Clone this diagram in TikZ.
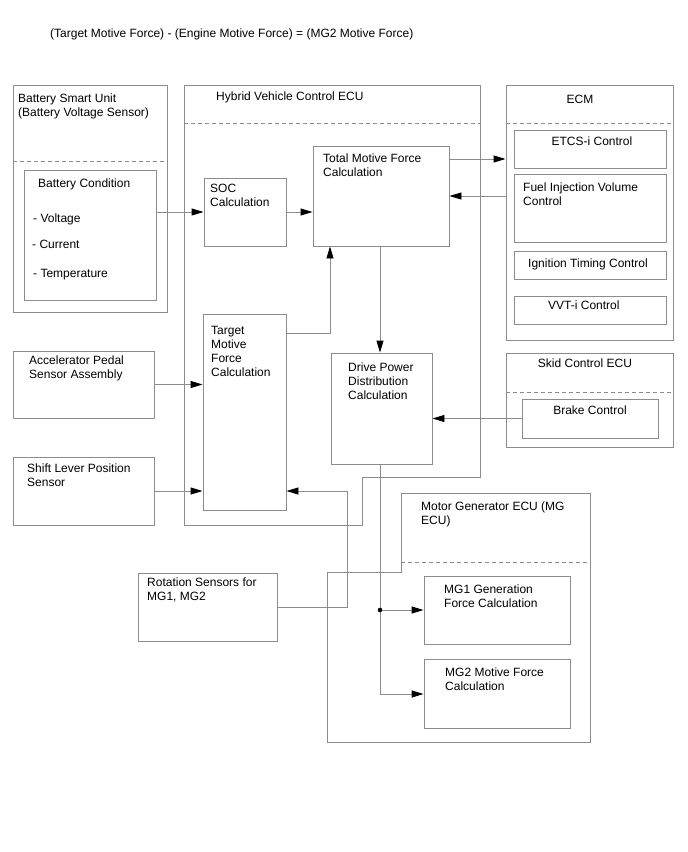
\documentclass[tikz,border=0pt]{standalone}
\usepackage{fontspec}
\setmainfont{Liberation Sans}
\usetikzlibrary{arrows.meta,fit}
\definecolor{ln}{RGB}{140,140,140}
\begin{document}
\begin{tikzpicture}[x=1pt,y=-1pt,
  box/.style={draw=ln, line width=0.9pt, inner sep=0pt},
  lbl/.style={anchor=base west, inner sep=0pt, align=left, font=\fontsize{12}{14}\selectfont},
  clbl/.style={anchor=base, inner sep=0pt, font=\fontsize{12}{14}\selectfont},
  arr/.style={draw=ln, line width=0.9pt, -{Triangle[length=12pt,width=7pt,color=black]}},
  con/.style={draw=ln, line width=0.9pt},
  sepline/.style={draw=ln, line width=0.9pt, dash pattern=on 4pt off 3pt}]
\useasboundingbox[fill=white] (0,0) rectangle (688,852);

% title (multi-line labels are placed by the baseline of their last line)
\node[lbl] (title) at (50,37) {(Target Motive Force) - (Engine Motive Force) = (MG2 Motive Force)};

% Battery Smart Unit
\node[box, fit={(13,85)(167,312)}] (bsu) {};
\draw[sepline] (bsu.west |- 0,161) -- (bsu.east |- 0,161);
\node[lbl] (bsut) at (18,116) {Battery Smart Unit\\(Battery Voltage Sensor)};
\node[box, fit={(24,170)(156,300)}] (batcond) {};
\node[lbl] (bct) at (38,187) {Battery Condition};
\node[lbl] (bv) at (33,222) {- Voltage};
\node[lbl] (bc) at (32,248) {- Current};
\node[lbl] (btp) at (33,277) {- Temperature};

% Hybrid Vehicle Control ECU
\draw[con] (184,85) -- (480,85) -- (480,477) -- (362,477) -- (362,525) -- (184,525) -- cycle;
\coordinate (hv) at (184,85);
\draw[sepline] (184,123) -- (480,123);
\node[lbl] (hvt) at (216,100) {Hybrid Vehicle Control ECU};
\node[box, fit={(204,178)(286,246)}] (soc) {};
\node[lbl] (soct) at (210,206) {SOC\\Calculation};
\node[box, fit={(313,146)(449,246)}] (total) {};
\node[lbl] (totalt) at (323,176) {Total Motive Force\\Calculation};
\node[box, fit={(203,314)(286,510)}] (target) {};
\node[lbl] (targett) at (211,376) {Target\\Motive\\Force\\Calculation};
\node[box, fit={(331,353)(432,464)}] (drive) {};
\node[lbl] (drivet) at (348,399) {Drive Power\\Distribution\\Calculation};

% ECM
\node[box, fit={(506,85)(673,340)}] (ecm) {};
\draw[sepline] (ecm.west |- 0,123) -- (ecm.east |- 0,123);
\node[clbl] (ecmt) at (580,103) {ECM};
\node[box, fit={(514,130)(666,168)}] (etcs) {};
\node[clbl] (etcst) at (592,145) {ETCS-i Control};
\node[box, fit={(514,174)(666,242)}] (fuel) {};
\node[lbl] (fuelt) at (523,205) {Fuel Injection Volume\\Control};
\node[box, fit={(514,251)(666,279)}] (ign) {};
\node[lbl] (ignt) at (528,267) {Ignition Timing Control};
\node[box, fit={(514,296)(666,324)}] (vvt) {};
\node[lbl] (vvtt) at (548,309) {VVT-i Control};

% Skid Control ECU
\node[box, fit={(506,353)(673,447)}] (skid) {};
\draw[sepline] (skid.west |- 0,392) -- (skid.east |- 0,392);
\node[clbl] (skidt) at (585,367) {Skid Control ECU};
\node[box, fit={(522,399)(658,438)}] (brake) {};
\node[clbl] (braket) at (590,414) {Brake Control};

% Sensors
\node[box, fit={(13,351)(154,418)}] (accel) {};
\node[lbl] (accelt) at (29,378) {Accelerator Pedal\\Sensor Assembly};
\node[box, fit={(13,457)(154,525)}] (shift) {};
\node[lbl] (shiftt) at (27,486) {Shift Lever Position\\Sensor};
\node[box, fit={(138,573)(277,641)}] (rot) {};
\node[lbl] (rott) at (147,600) {Rotation Sensors for\\MG1, MG2};

% Motor Generator ECU
\draw[con] (401,493) -- (590,493) -- (590,742) -- (327,742) -- (327,572) -- (401,572) -- cycle;
\coordinate (mg) at (401,493);
\draw[sepline] (401,562) -- (590,562);
\node[lbl] (mgt) at (421,524) {Motor Generator ECU (MG\\ECU)};
\node[box, fit={(424,576)(570,644)}] (mg1) {};
\node[lbl] (mg1t) at (444,607) {MG1 Generation\\Force Calculation};
\node[box, fit={(424,659)(570,728)}] (mg2) {};
\node[lbl] (mg2t) at (445,690) {MG2 Motive Force\\Calculation};

% connectors
\coordinate (tk) at (330,333);
\coordinate (ya) at (0,159);
\coordinate (yb) at (0,196);
\coordinate (xd) at (380,0);
\coordinate (rc) at (347,607);
\coordinate (rt) at (347,491);
\coordinate (jn) at (380,610);
\coordinate (jb) at (380,694);

\draw[arr] (batcond.east |- soc.west) -- (soc.west);
\draw[arr] (soc.east) -- (soc.east -| total.west);
\draw[arr] (target.east |- tk) -- (tk) -- (total.south -| tk);
\draw[arr] (total.east |- ya) -- (ecm.west |- ya);
\draw[arr] (ecm.west |- yb) -- (total.east |- yb);
\draw[arr] (total.south -| xd) -- (drive.north -| xd);
\draw[arr] (brake.west) -- (brake.west -| drive.east);
\draw[arr] (accel.east) -- (accel.east -| target.west);
\draw[arr] (shift.east) -- (shift.east -| target.west);
\draw[arr] (rot.east) -- (rc) -- (rt) -- (target.east |- rt);
\draw[con] (drive.south -| xd) -- (jn);
\draw[arr] (jn) -- (jn -| mg1.west);
\draw[arr] (jn) -- (jb) -- (mg2.west |- jb);
\fill (jn) circle (2.3pt);
\end{tikzpicture}
\end{document}
